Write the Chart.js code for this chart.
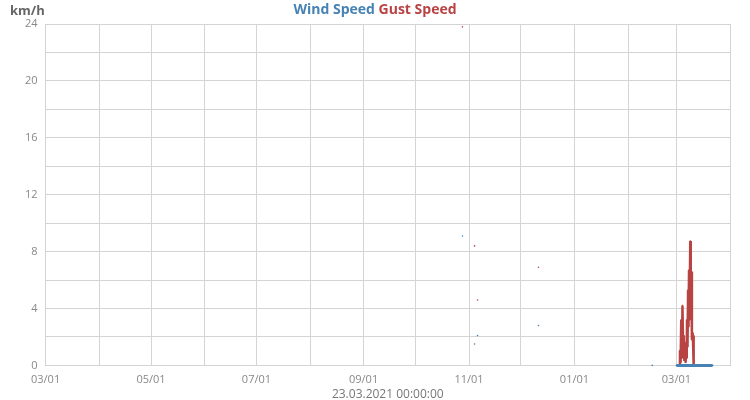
<!DOCTYPE html>
<html>
<head>
<meta charset="utf-8">
<script src="https://cdn.jsdelivr.net/npm/chart.js@4.4.1/dist/chart.umd.min.js"></script>
<style>
  html, body { margin: 0; padding: 0; background: #fff; }
  #wrap { width: 750px; height: 400px; }
</style>
</head>
<body>
<div id="wrap"><canvas id="windChart"></canvas></div>
<script>
// axis range and labels
const rangeStart = '2020-03-01T00:00';
const rangeEnd = '2021-04-01T00:00';
const yTicks = [0, 4, 8, 12, 16, 20, 24];
const unitLabel = 'km/h';
const timeLabel = '23.03.2021 00:00:00';

// wind speed (null = gap in the record)
const windTimes = ['2020-10-28T05:00', '2020-10-30T00:00', '2020-11-04T05:00', '2020-11-05T00:00',
  '2020-11-05T22:00', '2020-11-20T00:00', '2020-12-11T05:00', '2021-01-01T00:00',
  '2021-02-15T00:00', '2021-02-20T00:00',
  '2021-03-01T00:00', '2021-03-05T00:00', '2021-03-10T00:00', '2021-03-15T00:00', '2021-03-21T22:00'];
const windValues = [9.1, null, 1.5, null,
  2.1, null, 2.8, null,
  0.0, null,
  0.0, 0.0, 0.0, 0.0, 0.0];

// gust speed
const gustTimes = ['2020-10-28T05:00', '2020-10-30T00:00', '2020-11-04T05:00', '2020-11-05T00:00',
  '2020-11-05T22:00', '2020-11-20T00:00', '2020-12-11T05:00', '2021-01-01T00:00',
  '2021-03-02T21:00', '2021-03-03T01:00', '2021-03-03T10:00', '2021-03-03T19:00', '2021-03-04T04:00',
  '2021-03-04T12:00', '2021-03-04T22:00', '2021-03-05T06:00', '2021-03-05T14:00', '2021-03-05T23:00',
  '2021-03-06T07:00', '2021-03-06T18:00', '2021-03-06T23:00', '2021-03-07T03:00', '2021-03-07T10:00',
  '2021-03-07T18:00', '2021-03-08T00:00', '2021-03-08T07:00', '2021-03-08T14:00', '2021-03-09T00:00',
  '2021-03-09T07:00', '2021-03-09T14:00', '2021-03-09T23:00', '2021-03-10T09:00', '2021-03-10T15:00',
  '2021-03-10T21:00', '2021-03-11T02:00'];
const gustValues = [23.8, null, 8.4, null,
  4.6, null, 6.9, null,
  0.0, 1.05, 0.2, 3.2, 0.5,
  4.2, 0.9, 2.1, 0.4, 1.6,
  0.2, 1.05, 0.5, 3.2, 1.3,
  5.3, 2.7, 6.7, 3.2, 8.75,
  3.4, 6.6, 1.8, 2.3, 1.6,
  2.1, 0.0];

const toMs = s => Date.parse(s + ':00Z');
const toPoints = (times, values) => times.map((t, i) => ({ x: toMs(t), y: values[i] }));

const xMin = toMs(rangeStart);
const xMax = toMs(rangeEnd);

// unit label top-left and the two-coloured series title
const headerPlugin = {
  id: 'header',
  afterDraw(chart) {
    const c = chart.ctx;
    c.save();
    c.textBaseline = 'middle';
    c.font = 'bold 13px "Open Sans"';
    c.fillStyle = '#666';
    c.fillText(unitLabel, 10, 11);

    c.font = 'bold 14px "Open Sans"';
    const parts = chart.data.datasets.map(ds => ds.label);
    const gap = c.measureText(' ').width;
    const total = parts.reduce((s, p) => s + c.measureText(p).width, 0) + gap * (parts.length - 1);
    let x = chart.width / 2 - total / 2;
    parts.forEach((p, i) => {
      c.fillStyle = chart.data.datasets[i].borderColor;
      c.fillText(p, x, 10);
      x += c.measureText(p).width + gap;
    });
    c.restore();
  }
};

new Chart(document.getElementById('windChart'), {
  type: 'line',
  data: {
    datasets: [
      {
        label: 'Wind Speed',
        data: toPoints(windTimes, windValues),
        borderColor: '#4682b4',
        backgroundColor: '#4682b4',
        borderWidth: 3,
        pointRadius: 0.8,
        pointBorderWidth: 0,
        tension: 0,
        spanGaps: false,
        clip: 5
      },
      {
        label: 'Gust Speed',
        data: toPoints(gustTimes, gustValues),
        borderColor: '#b94343',
        backgroundColor: '#b94343',
        borderWidth: 2.5,
        pointRadius: 0.8,
        pointBorderWidth: 0,
        tension: 0,
        spanGaps: false
      }
    ]
  },
  options: {
    responsive: true,
    maintainAspectRatio: false,
    animation: false,
    layout: { padding: { left: 17, right: 20, top: 24, bottom: -2 } },
    plugins: {
      tooltip: { enabled: false },
      legend: { display: false }
    },
    scales: {
      x: {
        type: 'linear',
        min: xMin,
        max: xMax,
        afterBuildTicks: scale => {
          const ticks = [];
          const d = new Date(xMin);
          while (d.getTime() <= xMax) {
            ticks.push({ value: d.getTime() });
            d.setUTCMonth(d.getUTCMonth() + 1);
          }
          scale.ticks = ticks;
        },
        grid: { color: '#d4d4d4', drawTicks: false },
        border: { color: '#d4d4d4' },
        ticks: {
          autoSkip: false,
          maxRotation: 0,
          padding: 8,
          color: '#888',
          font: { family: 'Open Sans', size: 11 },
          callback: (v, i) => {
            if (i % 2 !== 0) return '';
            const d = new Date(v);
            const mm = String(d.getUTCMonth() + 1).padStart(2, '0');
            const dd = String(d.getUTCDate()).padStart(2, '0');
            return mm + '/' + dd;
          }
        },
        title: {
          display: true,
          text: timeLabel,
          color: '#777',
          font: { family: 'Open Sans', size: 12 },
          padding: { top: -7, bottom: 0 }
        }
      },
      y: {
        min: 0,
        max: 24,
        grid: { color: '#d4d4d4', drawTicks: false },
        border: { color: '#d4d4d4' },
        ticks: {
          stepSize: 2,
          padding: 8,
          color: '#888',
          font: { family: 'Open Sans', size: 11 },
          callback: v => yTicks.includes(v) ? v : ''
        }
      }
    }
  },
  plugins: [headerPlugin]
});
</script>
</body>
</html>
